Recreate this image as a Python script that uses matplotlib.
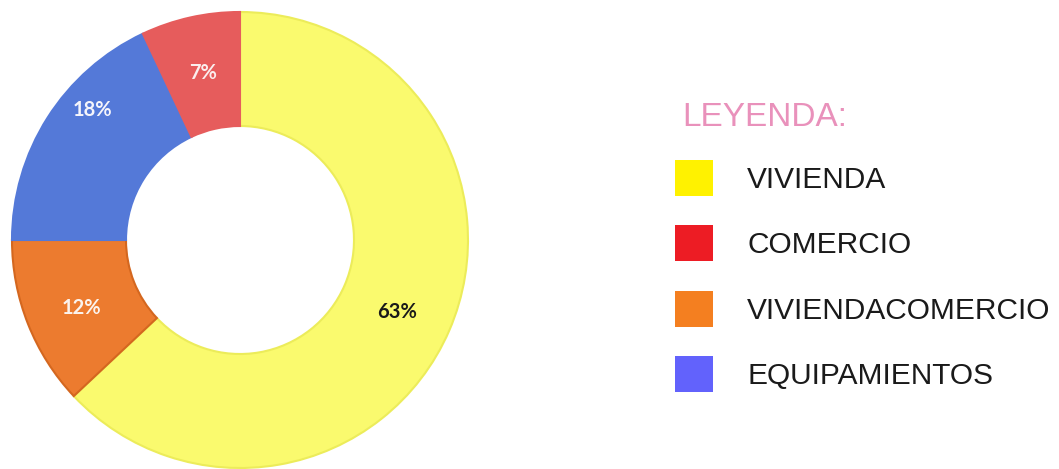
import matplotlib
matplotlib.use("Agg")
import matplotlib.pyplot as plt
from matplotlib.patches import Patch

# slices, clockwise from 12 o'clock
slice_labels = ["VIVIENDA", "VIVIENDA COMERCIO", "EQUIPAMIENTOS", "COMERCIO"]
slice_values = [63, 12, 18, 7]
slice_colors = ["#fafa6e", "#ec7b2f", "#5479d8", "#e65c5c"]
slice_edges = ["#ecec5a", "#d4671f", "#5479d8", "#e65c5c"]
pct_colors = ["#1a1a1a", "#fbf3ee", "#f5f5fb", "#fbeeee"]

# legend entries (own order and brighter colours)
legend_labels = ["VIVIENDA", "COMERCIO", "VIVIENDACOMERCIO", "EQUIPAMIENTOS"]
legend_colors = ["#fff200", "#ed1c24", "#f47f20", "#6262fc"]

W, H = 1059, 469
fig = plt.figure(figsize=(W / 100, H / 100), dpi=100)

cx, cy, R = 240, 240, 228
ax = fig.add_axes([(cx - R) / W, (H - cy - R) / H, 2 * R / W, 2 * R / H])
wedges, texts, autotexts = ax.pie(
    slice_values, colors=slice_colors, startangle=90, counterclock=False,
    radius=1.0, wedgeprops=dict(width=0.5, linewidth=1.5),
    autopct="%d%%", pctdistance=0.75,
    textprops=dict(family="Lato", weight="bold", fontsize=14.5))
for w, ec in zip(wedges, slice_edges):
    w.set_edgecolor(ec)
for t, c in zip(autotexts, pct_colors):
    t.set_color(c)
# nudge labels to where the source puts them
nudges = [(0, -0.02), (0, -0.02), (-0.015, 0.17), (0, 0)]
for t, (dx, dy) in zip(autotexts, nudges):
    x, y = t.get_position()
    t.set_position((x + dx, y + dy))
ax.set_xlim(-1, 1)
ax.set_ylim(-1, 1)
ax.set_aspect("equal")
ax.axis("off")

fig.text(682 / W, 1 - 117 / H, "LEYENDA:", family="Liberation Sans",
         fontsize=24, color="#e991bb", va="center", ha="left")

handles = [Patch(facecolor=c, edgecolor="none") for c in legend_colors]
leg = fig.legend(
    handles, legend_labels, loc="upper left",
    bbox_to_anchor=(675 / W, 1 - 160 / H), frameon=False,
    prop=dict(family="Liberation Sans", size=21.5),
    handlelength=1.27, handleheight=1.48,
    handletextpad=1.15, labelspacing=0.98, borderpad=0, borderaxespad=0)
for t in leg.get_texts():
    t.set_color("#1a1a1a")

fig.savefig("out.png", dpi=100)
